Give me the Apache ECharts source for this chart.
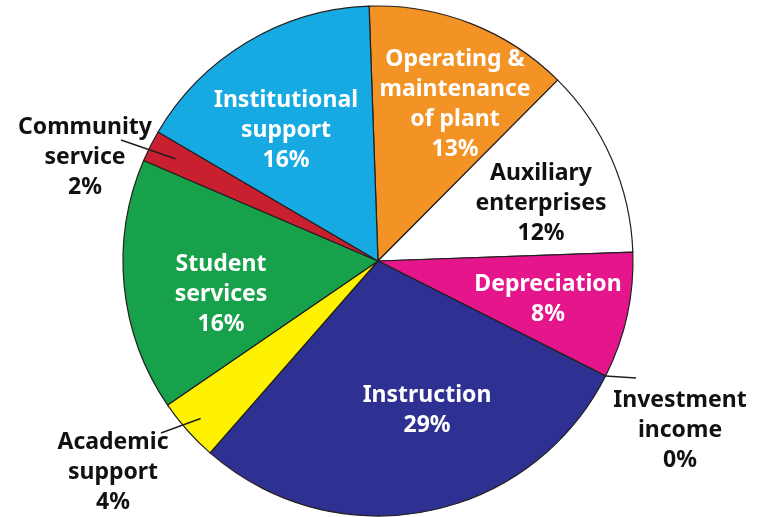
<!DOCTYPE html>
<html>
<head>
<meta charset="utf-8">
<script src="https://cdn.jsdelivr.net/npm/echarts@6/dist/echarts.min.js"></script>
<style>
  html, body { margin: 0; padding: 0; background: #fff; }
  #chart { width: 757px; height: 517px; }
</style>
</head>
<body>
<div id="chart"></div>
<script>
// slices, clockwise from the top
var categories = [
  'Operating &\nmaintenance\nof plant',
  'Auxiliary\nenterprises',
  'Depreciation',
  'Investment\nincome',
  'Instruction',
  'Academic\nsupport',
  'Student\nservices',
  'Community\nservice',
  'Institutional\nsupport'
]
var values = [13, 12, 8, 0, 29, 4, 16, 2, 16]

var colors = ['#f39325', '#ffffff', '#e5168b', '#2e3192', '#2e3192', '#fff200', '#17a14b', '#c8202f', '#17a9e1']
var textColors = ['#fff', '#111', '#fff', '#111', '#fff', '#111', '#fff', '#111', '#fff']
// label centres (px)
var labelPos = [[455, 104], [541, 203], [548, 299], [680, 430], [427, 410], [113, 472], [221, 294], [85, 157], [286, 130]]
// leader lines: start radius (share of the pie radius) and end point near the text
var lineStart = [null, null, null, 1.0, null, 0.93, null, 0.89, null]
var lineEnd = [null, null, null, [636, 378], null, [161, 433], null, [121, 140], null]

var center = [378, 261]
var radius = 255
var startAngle = 92

var total = values.reduce(function (a, b) { return a + b }, 0)

function midPoint (i, share) {
  var before = 0
  for (var k = 0; k < i; k++) before += values[k]
  var mid = before + values[i] / 2
  // degrees clockwise from top
  var a = (90 - startAngle + mid / total * 360) * Math.PI / 180
  var r = radius * share
  return [center[0] + r * Math.sin(a), center[1] - r * Math.cos(a)]
}

var chart = echarts.init(document.getElementById('chart'))

var data = categories.map(function (name, i) {
  return {
    name: name,
    value: values[i],
    itemStyle: { color: colors[i] },
    label: { color: textColors[i] }
  }
})

// leader lines drawn on top of the slices
var leaders = []
lineEnd.forEach(function (end, i) {
  if (!end) return
  var s = midPoint(i, lineStart[i])
  leaders.push({
    type: 'line',
    z: 100,
    shape: { x1: s[0], y1: s[1], x2: end[0], y2: end[1] },
    style: { stroke: '#231f20', lineWidth: 1.5 }
  })
})

var option = {
  backgroundColor: '#fff',
  animation: false,
  graphic: leaders,
  series: [
    {
      type: 'pie',
      center: center,
      radius: radius,
      startAngle: startAngle,
      clockwise: true,
      avoidLabelOverlap: false,
      stillShowZeroSum: true,
      itemStyle: {
        borderColor: '#231f20',
        borderWidth: 1.2
      },
      label: {
        show: true,
        position: 'inside',
        formatter: '{b}\n{c}%',
        fontFamily: 'Noto Sans',
        fontWeight: 'bold',
        fontSize: 23,
        lineHeight: 30,
        align: 'center'
      },
      labelLine: { show: false },
      labelLayout: function (params) {
        var p = labelPos[params.dataIndex]
        return {
          x: p[0],
          y: p[1],
          align: 'center',
          verticalAlign: 'middle'
        }
      },
      data: data
    }
  ]
}

chart.setOption(option)
</script>
</body>
</html>
